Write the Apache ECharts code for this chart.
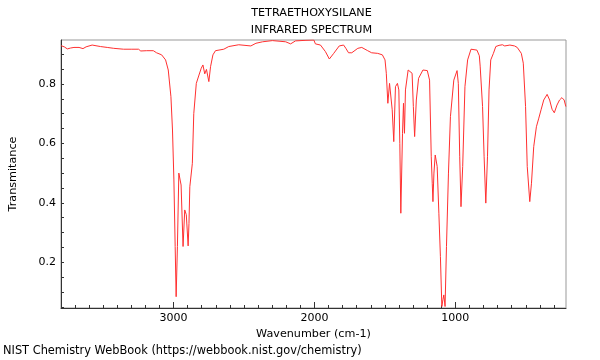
<!DOCTYPE html>
<html>
<head>
<meta charset="utf-8">
<script src="https://cdn.jsdelivr.net/npm/echarts@6/dist/echarts.min.js"></script>
<style>html,body{margin:0;padding:0;background:#fff;}#c{width:600px;height:360px;}</style>
</head>
<body>
<div id="c"></div>
<script>
const titleLines = ['TETRAETHOXYSILANE', 'INFRARED SPECTRUM'];
const xName = 'Wavenumber (cm-1)';
const yName = 'Transmitance';
const footer = 'NIST Chemistry WebBook (https://webbook.nist.gov/chemistry)';
const xMajorTicks = [1000, 2000, 3000];
const yLabelTicks = [0.2, 0.4, 0.6, 0.8];
const wavenumber = [3798,3775,3753,3730,3706,3670,3642,3620,3577,3518,3470,3424,3354,3300,3248,3232,3190,3143,3120,3084,3056,3037,3018,3007,2997,2988,2981,2972,2962,2951,2946,2932,2920,2915,2909,2896,2890,2884,2866,2856,2838,2819,2803,2791,2785,2778,2766,2758,2749,2737,2720,2702,2643,2608,2537,2451,2415,2368,2298,2204,2169,2134,2060,2004,1993,1957,1922,1894,1863,1824,1793,1777,1758,1735,1692,1664,1622,1594,1551,1518,1499,1490,1479,1467,1458,1448,1437,1425,1411,1401,1394,1387,1375,1368,1361,1354,1335,1321,1307,1298,1289,1277,1261,1230,1199,1183,1171,1164,1159,1152,1143,1129,1117,1106,1096,1088,1082,1073,1063,1049,1035,1011,988,979,969,960,948,932,913,889,877,847,830,824,807,796,784,772,761,749,730,713,690,666,650,613,580,561,532,518,502,490,472,460,444,425,408,392,373,349,331,314,298,279,261,244,228,216];
const transmittance = [0.929,0.925,0.918,0.921,0.923,0.923,0.919,0.925,0.931,0.926,0.923,0.920,0.917,0.917,0.917,0.911,0.912,0.912,0.905,0.898,0.881,0.847,0.757,0.645,0.477,0.253,0.084,0.253,0.500,0.494,0.460,0.253,0.376,0.382,0.360,0.255,0.330,0.454,0.533,0.700,0.802,0.830,0.853,0.864,0.862,0.834,0.849,0.845,0.808,0.858,0.898,0.912,0.917,0.926,0.932,0.928,0.937,0.942,0.946,0.942,0.935,0.945,0.947,0.948,0.935,0.931,0.909,0.884,0.903,0.928,0.931,0.920,0.905,0.905,0.920,0.923,0.912,0.905,0.903,0.898,0.881,0.836,0.735,0.802,0.802,0.713,0.606,0.791,0.802,0.780,0.600,0.365,0.634,0.735,0.634,0.780,0.847,0.853,0.836,0.724,0.623,0.746,0.819,0.847,0.845,0.813,0.555,0.466,0.404,0.500,0.561,0.522,0.365,0.219,0.051,0.075,0.090,0.051,0.253,0.500,0.690,0.813,0.845,0.802,0.555,0.387,0.522,0.791,0.881,0.917,0.917,0.914,0.895,0.860,0.724,0.555,0.399,0.555,0.780,0.881,0.903,0.926,0.930,0.932,0.928,0.931,0.928,0.923,0.903,0.870,0.724,0.522,0.404,0.466,0.589,0.656,0.685,0.713,0.746,0.765,0.746,0.715,0.703,0.729,0.746,0.754,0.746,0.724];

const X_MIN = 215, X_MAX = 3798, Y_MIN = 0.046, Y_MAX = 0.948;
const xMinorTicks = [];
for (let v = 300; v <= 3700; v += 100) xMinorTicks.push(v);
const yTicks = [];
for (let i = 1; i <= 18; i++) yTicks.push(+(i * 0.05).toFixed(2));

const FONT = 'DejaVu Sans';
const chart = echarts.init(document.getElementById('c'), null, {renderer: 'canvas'});
chart.setOption({
  animation: false,
  backgroundColor: '#fff',
  title: [
    {text: titleLines[0], left: 311.5, top: 8, padding: 0, textAlign: 'center', textStyle: {fontFamily: FONT, fontSize: 11.2, fontWeight: 'normal', color: '#000'}},
    {text: titleLines[1], left: 311.5, top: 25, padding: 0, textAlign: 'center', textStyle: {fontFamily: FONT, fontSize: 11.2, fontWeight: 'normal', color: '#000'}},
    {text: footer, left: 3, top: 346, padding: 0, textStyle: {fontFamily: FONT, fontSize: 11.4, fontWeight: 'normal', color: '#000'}}
  ],
  grid: {left: 57, right: 34, top: 40, bottom: 52, show: true, borderColor: '#999', borderWidth: 1, containLabel: false},
  xAxis: [
    {type: 'value', min: X_MIN, max: X_MAX, inverse: true, position: 'bottom',
     axisLine: {show: true, lineStyle: {color: '#333', width: 1}},
     axisTick: {show: true, inside: true, length: 3, customValues: xMinorTicks, lineStyle: {color: '#333'}},
     axisLabel: {show: false}, splitLine: {show: false}},
    {type: 'value', min: X_MIN, max: X_MAX, inverse: true, position: 'bottom',
     axisLine: {show: false},
     axisTick: {show: true, inside: true, length: 6, customValues: xMajorTicks, lineStyle: {color: '#333'}},
     axisLabel: {show: true, customValues: xMajorTicks, margin: 5, fontFamily: FONT, fontSize: 11, color: '#000', formatter: v => String(v)},
     name: xName, nameLocation: 'middle', nameGap: 18, nameTextStyle: {fontFamily: FONT, fontSize: 11.2, color: '#000'},
     splitLine: {show: false}}
  ],
  yAxis: {type: 'value', min: Y_MIN, max: Y_MAX,
    axisLine: {show: true, lineStyle: {color: '#333', width: 1}},
    axisTick: {show: true, inside: true, length: 3, customValues: yTicks, lineStyle: {color: '#333'}},
    axisLabel: {show: true, customValues: yLabelTicks, margin: 5, fontFamily: FONT, fontSize: 11, color: '#000', formatter: v => v.toFixed(1)},
    name: yName, nameLocation: 'middle', nameGap: 42, nameTextStyle: {fontFamily: FONT, fontSize: 11.2, color: '#000'},
    splitLine: {show: false}},
  series: [{
    type: 'line', xAxisIndex: 0, showSymbol: false, symbol: 'none',
    data: wavenumber.map((w, i) => [w, transmittance[i]]),
    lineStyle: {color: '#ff3030', width: 1}, smooth: false
  }]
});
</script>
</body>
</html>
